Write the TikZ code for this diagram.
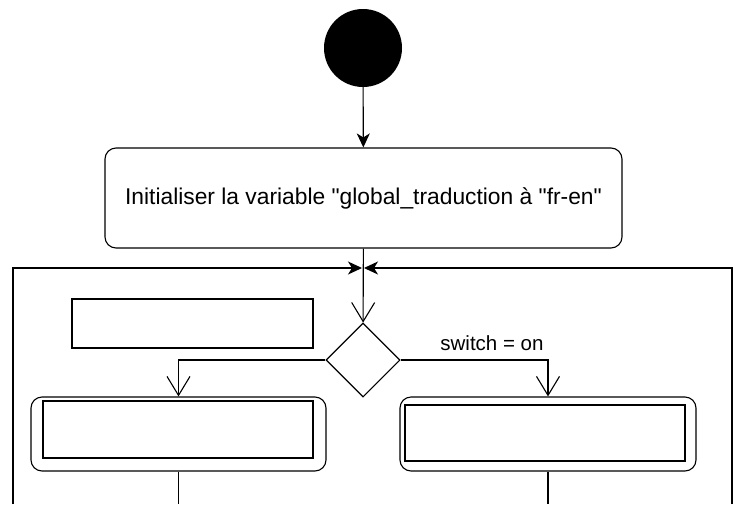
\documentclass[tikz,border=0pt]{standalone}
\usepackage{fontspec}
\setmainfont{Liberation Sans}
\usetikzlibrary{arrows.meta,shapes.geometric,positioning}

\tikzset{
  line/.style={line width=1.1pt},
  filltip/.style={line, -{Stealth[length=14pt,width=13pt,inset=4pt]}},
  opentip/.style={line, -{Straight Barb[length=19pt,width=23pt,line width=1.1pt]}},
  actbox/.style={line, draw, rounded corners=11pt, inner sep=0pt},
  plainbox/.style={line, draw, inner sep=0pt},
}

\begin{document}
\begin{tikzpicture}[x=1pt,y=-1pt]

\newcommand\InitFont{\fontsize{22.8}{26}\selectfont}
\newcommand\LabFont{\fontsize{20.5}{24}\selectfont}

\useasboundingbox (0,0) rectangle (739,504); %% page size

\node[circle, fill=black, minimum size=78pt, inner sep=0pt] (start) at (363,48) {};
\node[actbox, minimum width=517pt, minimum height=100pt] (init) at (363.5,198)
  {\InitFont Initialiser la variable \textquotedbl global\_traduction à \textquotedbl fr-en\textquotedbl};

\coordinate (merge) at (363,268);
\node[diamond, line, draw, minimum width=74pt, minimum height=74pt, inner sep=0pt] (dec) at (363,360) {};

\node[plainbox, minimum width=241pt, minimum height=49pt] (note) at (192.5,323.5) {};

%% left action
\node[actbox, minimum width=295pt, minimum height=74pt] (left) at (178.5,434) {};
\node[plainbox, minimum width=270pt, minimum height=57pt] (leftin) at (178,429.5) {};

%% right action
\node[actbox, minimum width=296pt, minimum height=74pt] (right) at (548,434) {};
\node[plainbox, minimum width=280pt, minimum height=56pt] (rightin) at (545,433) {};

\coordinate (lout) at (178.5,504);
\coordinate (rout) at (548,504);
\coordinate (lback) at (13,504);
\coordinate (rback) at (732,504);

\draw[filltip] (start) -- (init);
\draw[opentip] (init) -- (dec);
\draw[opentip] (dec.west) -| (left.north);
\draw[opentip] (dec.east) -| (right.north);
\node (sw) at (492,343) {\LabFont switch = on};

\draw[line] (left) -- (lout);
\draw[line] (right) -- (rout);
\draw[filltip] (lback) |- ([xshift=-1pt]merge);
\draw[filltip] (rback) |- ([xshift=1pt]merge);

\end{tikzpicture}
\end{document}
